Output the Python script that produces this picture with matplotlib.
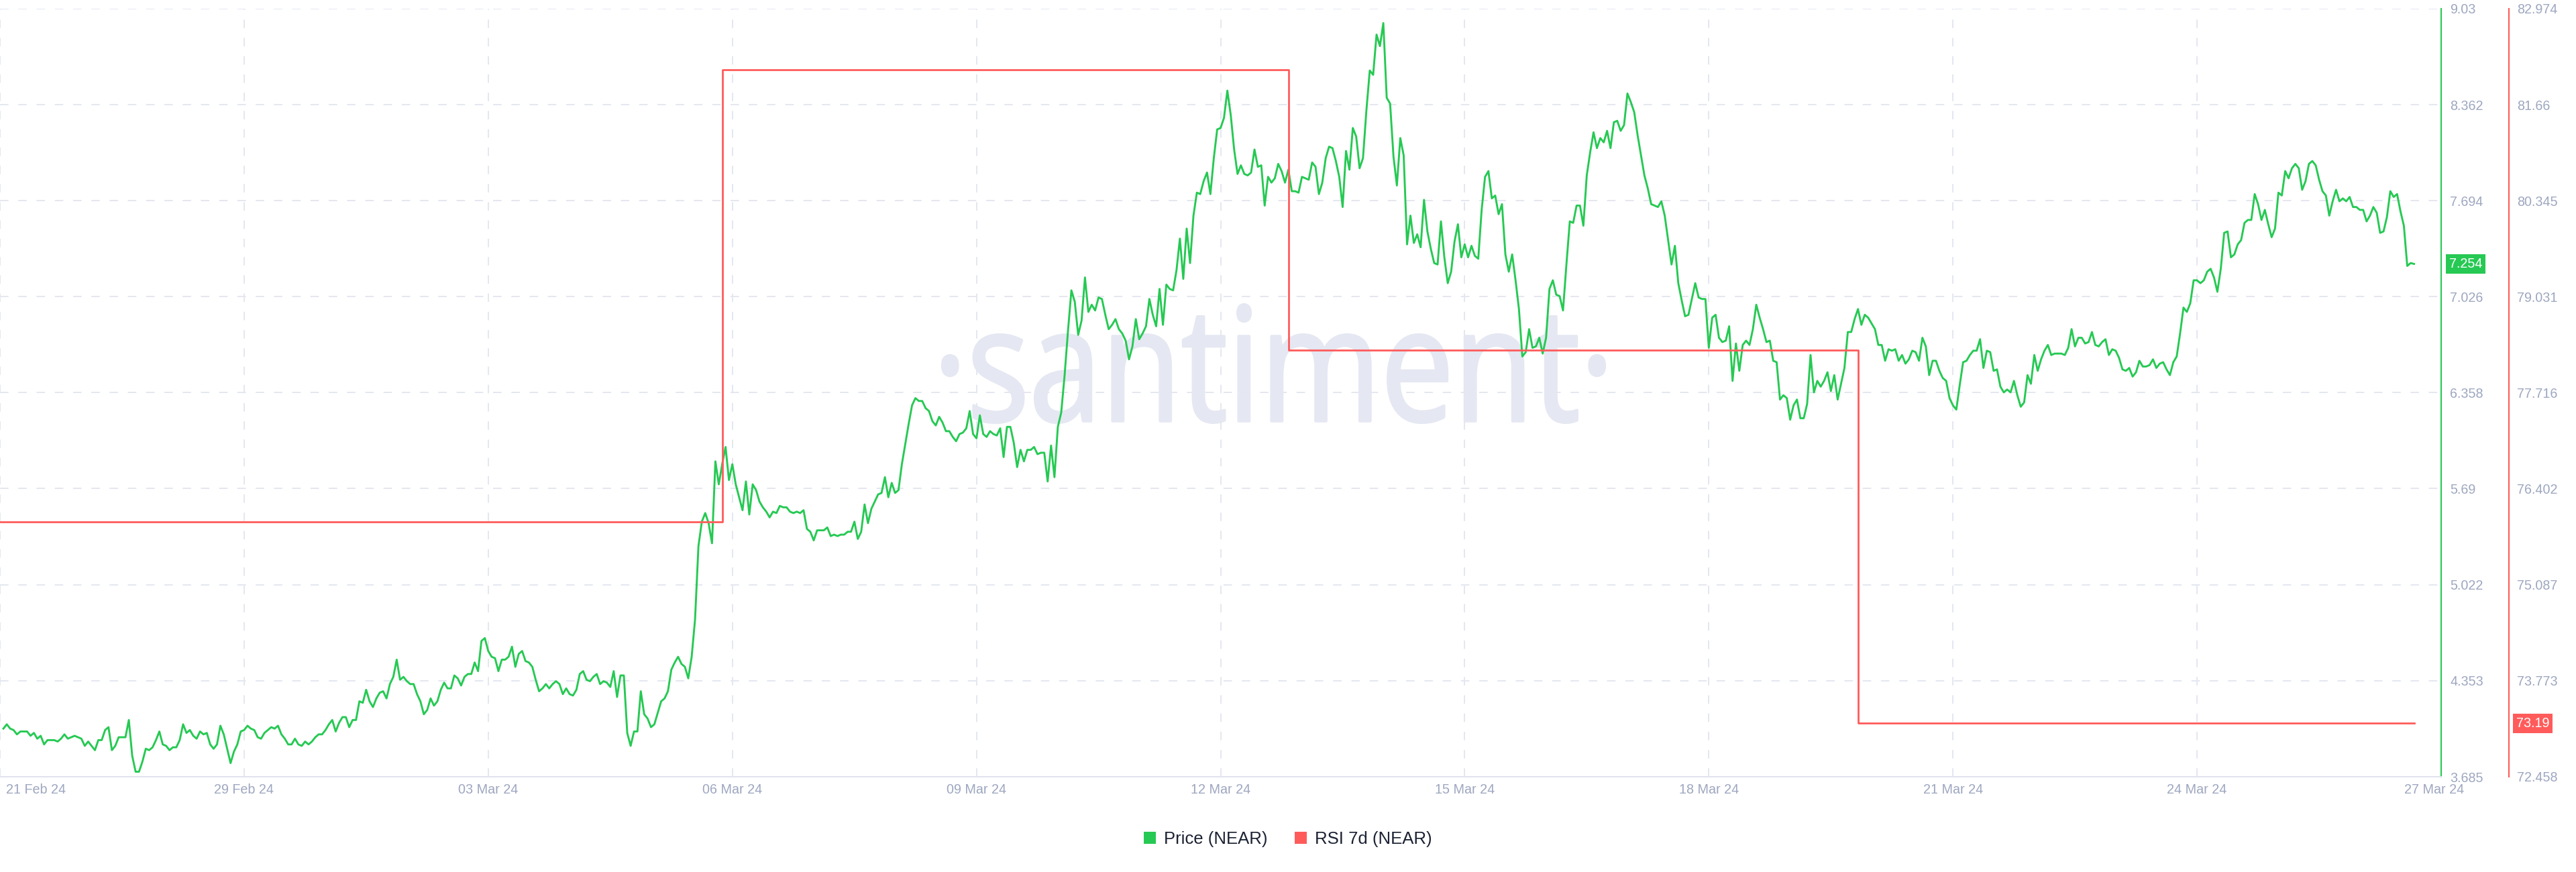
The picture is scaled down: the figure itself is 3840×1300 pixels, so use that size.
import numpy as np
import matplotlib.pyplot as plt
from matplotlib.patches import Patch, PathPatch
from matplotlib.textpath import TextPath
from matplotlib.font_manager import FontProperties
from matplotlib.transforms import Affine2D, offset_copy, ScaledTranslation

plt.rcParams['font.family'] = ['Liberation Sans', 'DejaVu Sans']

#%% data
# NEAR price (USD), hourly, first sample ~1h after the left edge
price = [
    4.02, 4.05, 4.02, 4.01, 3.98, 4.00, 4.00, 4.00, 3.97, 3.99,
    3.95, 3.97, 3.91, 3.94, 3.94, 3.94, 3.93, 3.95, 3.98, 3.95,
    3.96, 3.97, 3.96, 3.95, 3.90, 3.93, 3.90, 3.87, 3.94, 3.94,
    4.01, 4.03, 3.87, 3.90, 3.96, 3.96, 3.96, 4.08, 3.83, 3.72,
    3.72, 3.79, 3.88, 3.87, 3.89, 3.94, 4.00, 3.91, 3.90, 3.87,
    3.89, 3.89, 3.94, 4.05, 3.99, 4.01, 3.97, 3.95, 4.00, 3.98,
    3.99, 3.91, 3.88, 3.91, 4.04, 3.98, 3.88, 3.78, 3.86, 3.91,
    4.00, 4.01, 4.04, 4.02, 4.01, 3.96, 3.95, 3.99, 4.01, 4.03,
    4.02, 4.04, 3.98, 3.95, 3.91, 3.91, 3.95, 3.91, 3.90, 3.93,
    3.91, 3.93, 3.96, 3.98, 3.98, 4.01, 4.05, 4.08, 4.00, 4.06,
    4.10, 4.10, 4.03, 4.08, 4.08, 4.21, 4.20, 4.29, 4.21, 4.17,
    4.23, 4.27, 4.28, 4.23, 4.33, 4.38, 4.50, 4.36, 4.38, 4.35,
    4.33, 4.33, 4.26, 4.21, 4.12, 4.15, 4.23, 4.18, 4.21, 4.29,
    4.34, 4.30, 4.30, 4.39, 4.37, 4.32, 4.38, 4.40, 4.40, 4.48,
    4.42, 4.63, 4.65, 4.56, 4.52, 4.51, 4.42, 4.50, 4.50, 4.52,
    4.59, 4.45, 4.54, 4.56, 4.49, 4.48, 4.45, 4.36, 4.28, 4.30,
    4.33, 4.30, 4.33, 4.35, 4.33, 4.26, 4.30, 4.26, 4.25, 4.29,
    4.40, 4.42, 4.36, 4.35, 4.38, 4.40, 4.33, 4.35, 4.34, 4.31,
    4.42, 4.24, 4.39, 4.39, 3.99, 3.90, 4.00, 4.00, 4.28, 4.12,
    4.09, 4.03, 4.05, 4.13, 4.21, 4.23, 4.28, 4.43, 4.48, 4.52,
    4.47, 4.45, 4.37, 4.52,
    # 5-8 Mar
    4.78, 5.29, 5.46, 5.52, 5.45, 5.31, 5.88, 5.72, 5.86, 5.98,
    5.75, 5.86, 5.72, 5.63, 5.54, 5.74, 5.51, 5.72, 5.68, 5.60,
    5.56, 5.53, 5.49, 5.53, 5.52, 5.57, 5.56, 5.56, 5.53, 5.52,
    5.53, 5.52, 5.54, 5.41, 5.39, 5.33, 5.40, 5.40, 5.40, 5.42,
    5.36, 5.37, 5.36, 5.37, 5.37, 5.39, 5.39, 5.46, 5.34, 5.39,
    5.58, 5.45, 5.55, 5.60, 5.65, 5.66, 5.77, 5.63, 5.73, 5.66,
    5.68, 5.86, 6.00, 6.14, 6.27,
    6.32, 6.30, 6.30, 6.25, 6.23, 6.16, 6.13, 6.19, 6.15, 6.09,
    6.09, 6.05, 6.02, 6.07, 6.08, 6.11, 6.23, 6.07, 6.04, 6.20,
    6.07, 6.05, 6.09, 6.07, 6.06, 6.11, 5.91, 6.12, 6.12, 6.01,
    5.84, 5.96, 5.88, 5.96, 5.96, 5.98, 5.93, 5.94, 5.94, 5.74,
    5.99, 5.77, 6.12, 6.22, 6.48, 6.79, 7.07, 6.99, 6.76, 6.86,
    7.16, 6.92, 6.97, 6.93, 7.02, 7.01, 6.90, 6.80, 6.83, 6.87,
    6.80, 6.77, 6.72, 6.59, 6.68, 6.87, 6.73, 6.77, 6.82, 7.01,
    6.90, 6.82, 7.08, 6.83, 7.11, 7.08, 7.07, 7.21, 7.43, 7.15,
    7.50, 7.26,
    # 12-13 Mar
    7.59, 7.75, 7.74, 7.83, 7.89, 7.74, 7.99, 8.19, 8.20, 8.27,
    8.46, 8.29, 8.05, 7.88, 7.94, 7.88, 7.87, 7.89, 8.05, 7.93,
    7.94, 7.66, 7.86, 7.82, 7.85, 7.95, 7.90, 7.82, 7.91, 7.76,
    7.76, 7.75, 7.86, 7.85, 7.84, 7.96,
    # 13-20 Mar
    7.93, 7.74, 7.82, 7.99, 8.07, 8.06, 7.97, 7.86, 7.65, 8.04,
    7.91, 8.20, 8.14, 7.92, 7.99, 8.32, 8.60, 8.57, 8.85, 8.77,
    8.93, 8.41, 8.37, 8.00, 7.80, 8.13, 8.01, 7.39, 7.59, 7.40,
    7.46, 7.37, 7.70, 7.48, 7.36, 7.26, 7.25, 7.55, 7.30, 7.12,
    7.20, 7.41, 7.53, 7.30, 7.39, 7.30, 7.38, 7.31, 7.29, 7.63,
    7.86, 7.90, 7.71, 7.73, 7.60, 7.67, 7.32, 7.20, 7.32, 7.14,
    6.94, 6.61, 6.64, 6.80, 6.67, 6.68, 6.74, 6.63, 6.74, 7.08,
    7.14, 7.04, 7.03, 6.93, 7.25, 7.55, 7.54, 7.66, 7.66, 7.52,
    7.87, 8.03, 8.17, 8.06, 8.13, 8.10, 8.18, 8.06, 8.24, 8.25,
    8.18, 8.22, 8.44, 8.38, 8.31, 8.15, 8.01, 7.87, 7.78, 7.67,
    7.66, 7.65, 7.69, 7.59, 7.42, 7.25, 7.38, 7.12, 7.00, 6.89,
    6.90, 7.01, 7.12, 7.02, 7.01, 7.01, 6.67, 6.88, 6.90, 6.74,
    6.71, 6.72, 6.82, 6.44, 6.70, 6.51, 6.69, 6.72, 6.69, 6.80,
    6.97, 6.88, 6.80, 6.71, 6.72, 6.58, 6.57, 6.31, 6.34, 6.32,
    6.17, 6.27, 6.31, 6.18, 6.18, 6.28, 6.62, 6.36, 6.44, 6.40,
    6.44, 6.50, 6.37, 6.48, 6.31, 6.42, 6.53, 6.78, 6.78, 6.87,
    6.94, 6.83, 6.90, 6.88, 6.84, 6.80, 6.69, 6.69,
    # 20-27 Mar
    6.58, 6.66, 6.65, 6.66, 6.58, 6.62, 6.56, 6.59, 6.65, 6.64,
    6.58, 6.74, 6.68, 6.48, 6.58, 6.58, 6.51, 6.46, 6.44, 6.32,
    6.27, 6.24, 6.41, 6.57, 6.58, 6.62, 6.65, 6.65, 6.73, 6.53,
    6.65, 6.64, 6.51, 6.52, 6.40, 6.36, 6.38, 6.36, 6.44, 6.34,
    6.26, 6.29, 6.48, 6.42, 6.62, 6.51, 6.59, 6.65, 6.69, 6.62,
    6.63, 6.63, 6.63, 6.62, 6.67, 6.80, 6.68, 6.74, 6.74, 6.70,
    6.71, 6.78, 6.69, 6.68, 6.71, 6.73, 6.62, 6.66, 6.65, 6.60,
    6.52, 6.51, 6.53, 6.47, 6.50, 6.58, 6.54, 6.54, 6.55, 6.59,
    6.53, 6.56, 6.57, 6.52, 6.48, 6.57, 6.61, 6.77, 6.95, 6.92,
    6.98, 7.14, 7.14, 7.12, 7.14, 7.20, 7.22, 7.16, 7.06, 7.22,
    7.47, 7.48, 7.30, 7.32, 7.39, 7.42, 7.54, 7.56, 7.56, 7.74,
    7.67, 7.56, 7.63, 7.53, 7.44, 7.50, 7.75, 7.73, 7.90, 7.85,
    7.92, 7.95, 7.92, 7.77, 7.83, 7.95, 7.97, 7.94, 7.84, 7.76,
    7.73, 7.59, 7.69, 7.77, 7.69, 7.71, 7.69, 7.72, 7.65, 7.65,
    7.63, 7.63, 7.55, 7.59, 7.65, 7.61, 7.47, 7.48, 7.58, 7.76,
    7.72, 7.74, 7.62, 7.52, 7.24, 7.26, 7.254,
]
first_hour = 1

# RSI 7d (NEAR): level and the hour each level starts
rsi_levels = [75.95, 82.14, 78.30, 73.19]
rsi_start_hours = [0, 213, 380, 548]

date_labels = ['21 Feb 24', '29 Feb 24', '03 Mar 24', '06 Mar 24', '09 Mar 24', '12 Mar 24',
               '15 Mar 24', '18 Mar 24', '21 Mar 24', '24 Mar 24', '27 Mar 24']
date_hours = [0, 72, 144, 216, 288, 360, 432, 504, 576, 648, 720]

price_ticks = [3.685, 4.353, 5.022, 5.69, 6.358, 7.026, 7.694, 8.362, 9.03]
rsi_ticks = [72.458, 73.773, 75.087, 76.402, 77.716, 79.031, 80.345, 81.66, 82.974]
last_price = '7.254'
last_rsi = '73.19'

#%% styling
GREEN = '#26c953'
RED = '#ff5b5b'
TICK = '#9ea7c0'
GRID = '#e4e7f0'
WM = '#e5e8f2'

hours = first_hour + np.arange(len(price))

fig = plt.figure(figsize=(38.4, 13), dpi=100)
ax = fig.add_axes([0, 142 / 1300, 3639 / 3840, 1145 / 1300])
ax2 = ax.twinx()

ax.plot(hours, price, color=GREEN, lw=2.1, zorder=3, solid_joinstyle='round')
rsi_x = rsi_start_hours + [hours[-1]]
rsi_y = rsi_levels + [rsi_levels[-1]]
ax2.step(rsi_x, rsi_y, where='post', color=RED, lw=2.0)

ax.set_xlim(0, 720)
ax.set_ylim(price_ticks[0], price_ticks[-1])
ax2.set_ylim(rsi_ticks[0], rsi_ticks[-1])

ax.set_xticks(date_hours)
ax.set_xticklabels(date_labels)
ax.set_yticks(price_ticks)
ax.set_yticklabels([str(v) for v in price_ticks])
ax2.set_yticks(rsi_ticks)
ax2.set_yticklabels([str(v) for v in rsi_ticks])

ax.yaxis.tick_right()
ax.tick_params(axis='y', length=0, pad=9.4, labelsize=14.2, labelcolor=TICK)
ax.tick_params(axis='x', length=0, pad=7.5, labelsize=14.2, labelcolor=TICK)
ax2.tick_params(axis='y', length=0, pad=8.6, labelsize=14.2, labelcolor=TICK)

# first / last date labels are nudged inwards like the original
xl = ax.get_xticklabels()
xl[0].set_horizontalalignment('left')
xl[0].set_transform(xl[0].get_transform() + ScaledTranslation(0.09, 0, fig.dpi_scale_trans))
xl[-1].set_transform(xl[-1].get_transform() + ScaledTranslation(-0.10, 0, fig.dpi_scale_trans))

ax.grid(True, color=GRID, linewidth=1.4, linestyle=(0, (6.5, 7.5)))
ax.set_axisbelow(True)

for s in ['top', 'left']:
    ax.spines[s].set_visible(False)
ax.spines['bottom'].set_color('#dfe3ee')
ax.spines['bottom'].set_linewidth(1.4)
ax.spines['right'].set_color(GREEN)
ax.spines['right'].set_linewidth(1.5)
for s in ['top', 'left', 'bottom']:
    ax2.spines[s].set_visible(False)
ax2.spines['right'].set_color(RED)
ax2.spines['right'].set_linewidth(1.5)
ax2.spines['right'].set_position(('outward', 72.7))

# current value badges
ax.text(1, float(last_price), last_price, transform=offset_copy(ax.get_yaxis_transform(), fig=fig, x=12, units='dots'),
        ha='left', va='center', fontsize=14.2, color='white',
        bbox=dict(boxstyle='square,pad=0.25', fc=GREEN, ec='none'))
ax2.text(1, float(last_rsi), last_rsi, transform=offset_copy(ax2.get_yaxis_transform(), fig=fig, x=112, units='dots'),
         ha='left', va='center', fontsize=14.2, color='white',
         bbox=dict(boxstyle='square,pad=0.25', fc=RED, ec='none'))

# watermark
wm = TextPath((0, 0), '\u00b7santiment\u00b7', size=100,
              prop=FontProperties(family='Open Sans', weight='normal'))
ext = wm.get_extents()
wm_tr = Affine2D().translate(-ext.x0, -ext.y0).scale(987 / ext.width, 176 / ext.height).translate(1405, 670)
ax.add_artist(PathPatch(wm, transform=wm_tr, facecolor=WM, edgecolor=WM, lw=3.0,
                        joinstyle='round', zorder=0.5))

handles = [Patch(facecolor=GREEN, label='Price (NEAR)'), Patch(facecolor=RED, label='RSI 7d (NEAR)')]
fig.legend(handles=handles, loc='center', bbox_to_anchor=(0.5, 1 - 1251 / 1300), ncol=2, frameon=False,
           fontsize=18.5, handlelength=0.7, handleheight=0.7, handletextpad=0.45, columnspacing=1.6,
           labelcolor='#1c2233')

fig.savefig('out.png', dpi=100, facecolor='white')
